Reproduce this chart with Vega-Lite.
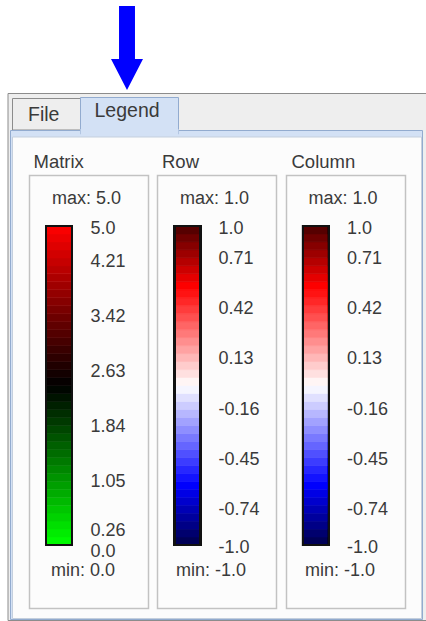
{
  "$schema": "https://vega.github.io/schema/vega-lite/v6.json",
  "width": 426,
  "height": 621,
  "padding": 0,
  "autosize": "none",
  "background": "#ffffff",
  "config": {"view": {"stroke": null}, "text": {"font": "Liberation Sans"}},
  "datasets": {
    "chrome": [
      {"element": "frame", "x": 8, "x2": 432, "y": 93.5, "y2": 620.5},
      {"element": "fileTab", "x": 12.5, "x2": 80.5, "y": 98.5, "y2": 130},
      {"element": "content", "x": 10.5, "x2": 422.5, "y": 130.5, "y2": 619.5},
      {"element": "legendTab", "x": 80.5, "x2": 178.5, "y": 97.5, "y2": 134},
      {"element": "legendJoin", "x": 81, "x2": 178, "y": 129, "y2": 136},
      {"element": "page", "x": 12.5, "x2": 421.5, "y": 137, "y2": 618.5}
    ],
    "boxes": [
      {"panel": "Matrix", "x": 29.5, "x2": 148.5, "y": 175.5, "y2": 608.5},
      {"panel": "Row", "x": 157.5, "x2": 276.5, "y": 175.5, "y2": 608.5},
      {"panel": "Column", "x": 286.5, "x2": 405.5, "y": 175.5, "y2": 608.5}
    ],
    "tabs": [
      {"tab": "File", "x": 28, "y": 114.5},
      {"tab": "Legend", "x": 94.5, "y": 111}
    ],
    "pointer": [{"target": "Legend", "x": 127, "y": 48}],
    "panels": [
      {"panel": "Matrix", "max": "max: 5.0", "min": "min: 0.0"},
      {"panel": "Row", "max": "max: 1.0", "min": "min: -1.0"},
      {"panel": "Column", "max": "max: 1.0", "min": "min: -1.0"}
    ],
    "matrixBands": [
      {"lo": 0, "hi": 0.125, "v": 0.0625}, {"lo": 0.125, "hi": 0.25, "v": 0.1875},
      {"lo": 0.25, "hi": 0.375, "v": 0.3125}, {"lo": 0.375, "hi": 0.5, "v": 0.4375},
      {"lo": 0.5, "hi": 0.625, "v": 0.5625}, {"lo": 0.625, "hi": 0.75, "v": 0.6875},
      {"lo": 0.75, "hi": 0.875, "v": 0.8125}, {"lo": 0.875, "hi": 1, "v": 0.9375},
      {"lo": 1, "hi": 1.125, "v": 1.0625}, {"lo": 1.125, "hi": 1.25, "v": 1.1875},
      {"lo": 1.25, "hi": 1.375, "v": 1.3125}, {"lo": 1.375, "hi": 1.5, "v": 1.4375},
      {"lo": 1.5, "hi": 1.625, "v": 1.5625}, {"lo": 1.625, "hi": 1.75, "v": 1.6875},
      {"lo": 1.75, "hi": 1.875, "v": 1.8125}, {"lo": 1.875, "hi": 2, "v": 1.9375},
      {"lo": 2, "hi": 2.125, "v": 2.0625}, {"lo": 2.125, "hi": 2.25, "v": 2.1875},
      {"lo": 2.25, "hi": 2.375, "v": 2.3125}, {"lo": 2.375, "hi": 2.5, "v": 2.4375},
      {"lo": 2.5, "hi": 2.625, "v": 2.5625}, {"lo": 2.625, "hi": 2.75, "v": 2.6875},
      {"lo": 2.75, "hi": 2.875, "v": 2.8125}, {"lo": 2.875, "hi": 3, "v": 2.9375},
      {"lo": 3, "hi": 3.125, "v": 3.0625}, {"lo": 3.125, "hi": 3.25, "v": 3.1875},
      {"lo": 3.25, "hi": 3.375, "v": 3.3125}, {"lo": 3.375, "hi": 3.5, "v": 3.4375},
      {"lo": 3.5, "hi": 3.625, "v": 3.5625}, {"lo": 3.625, "hi": 3.75, "v": 3.6875},
      {"lo": 3.75, "hi": 3.875, "v": 3.8125}, {"lo": 3.875, "hi": 4, "v": 3.9375},
      {"lo": 4, "hi": 4.125, "v": 4.0625}, {"lo": 4.125, "hi": 4.25, "v": 4.1875},
      {"lo": 4.25, "hi": 4.375, "v": 4.3125}, {"lo": 4.375, "hi": 4.5, "v": 4.4375},
      {"lo": 4.5, "hi": 4.625, "v": 4.5625}, {"lo": 4.625, "hi": 4.75, "v": 4.6875},
      {"lo": 4.75, "hi": 4.875, "v": 4.8125}, {"lo": 4.875, "hi": 5, "v": 4.9375}
    ],
    "corrBands": [
      {"lo": -1, "hi": -0.95, "v": -0.975}, {"lo": -0.95, "hi": -0.9, "v": -0.925},
      {"lo": -0.9, "hi": -0.85, "v": -0.875}, {"lo": -0.85, "hi": -0.8, "v": -0.825},
      {"lo": -0.8, "hi": -0.75, "v": -0.775}, {"lo": -0.75, "hi": -0.7, "v": -0.725},
      {"lo": -0.7, "hi": -0.65, "v": -0.675}, {"lo": -0.65, "hi": -0.6, "v": -0.625},
      {"lo": -0.6, "hi": -0.55, "v": -0.575}, {"lo": -0.55, "hi": -0.5, "v": -0.525},
      {"lo": -0.5, "hi": -0.45, "v": -0.475}, {"lo": -0.45, "hi": -0.4, "v": -0.425},
      {"lo": -0.4, "hi": -0.35, "v": -0.375}, {"lo": -0.35, "hi": -0.3, "v": -0.325},
      {"lo": -0.3, "hi": -0.25, "v": -0.275}, {"lo": -0.25, "hi": -0.2, "v": -0.225},
      {"lo": -0.2, "hi": -0.15, "v": -0.175}, {"lo": -0.15, "hi": -0.1, "v": -0.125},
      {"lo": -0.1, "hi": -0.05, "v": -0.075}, {"lo": -0.05, "hi": 0, "v": -0.025},
      {"lo": 0, "hi": 0.05, "v": 0.025}, {"lo": 0.05, "hi": 0.1, "v": 0.075},
      {"lo": 0.1, "hi": 0.15, "v": 0.125}, {"lo": 0.15, "hi": 0.2, "v": 0.175},
      {"lo": 0.2, "hi": 0.25, "v": 0.225}, {"lo": 0.25, "hi": 0.3, "v": 0.275},
      {"lo": 0.3, "hi": 0.35, "v": 0.325}, {"lo": 0.35, "hi": 0.4, "v": 0.375},
      {"lo": 0.4, "hi": 0.45, "v": 0.425}, {"lo": 0.45, "hi": 0.5, "v": 0.475},
      {"lo": 0.5, "hi": 0.55, "v": 0.525}, {"lo": 0.55, "hi": 0.6, "v": 0.575},
      {"lo": 0.6, "hi": 0.65, "v": 0.625}, {"lo": 0.65, "hi": 0.7, "v": 0.675},
      {"lo": 0.7, "hi": 0.75, "v": 0.725}, {"lo": 0.75, "hi": 0.8, "v": 0.775},
      {"lo": 0.8, "hi": 0.85, "v": 0.825}, {"lo": 0.85, "hi": 0.9, "v": 0.875},
      {"lo": 0.9, "hi": 0.95, "v": 0.925}, {"lo": 0.95, "hi": 1, "v": 0.975}
    ],
    "matrixTicks": [
      {"value": 5, "label": "5.0"}, {"value": 4.21, "label": "4.21"},
      {"value": 3.42, "label": "3.42"}, {"value": 2.63, "label": "2.63"},
      {"value": 1.84, "label": "1.84"}, {"value": 1.05, "label": "1.05"},
      {"value": 0.26, "label": "0.26"}, {"value": 0, "label": "0.0"}
    ],
    "corrTicks": [
      {"value": 1, "label": "1.0"}, {"value": 0.71, "label": "0.71"},
      {"value": 0.42, "label": "0.42"}, {"value": 0.13, "label": "0.13"},
      {"value": -0.16, "label": "-0.16"}, {"value": -0.45, "label": "-0.45"},
      {"value": -0.74, "label": "-0.74"}, {"value": -1, "label": "-1.0"}
    ]
  },
  "layer": [
    {
      "layer": [
        {
          "data": {"name": "chrome"},
          "mark": {"type": "rect", "strokeWidth": 1, "clip": true},
          "encoding": {
            "x": {"field": "x", "type": "quantitative", "scale": {"domain": [0, 426], "range": [0, 426], "nice": false, "zero": false}, "axis": null},
            "x2": {"field": "x2"},
            "y": {"field": "y", "type": "quantitative", "scale": {"domain": [0, 621], "range": [0, 621], "nice": false, "zero": false}, "axis": null},
            "y2": {"field": "y2"},
            "fill": {"field": "element", "type": "nominal", "legend": null, "scale": {"domain": ["frame", "fileTab", "content", "legendTab", "legendJoin", "page"], "range": ["#eeeeee", "#eeeeee", "#d3e1f5", "#d3e1f5", "#d3e1f5", "#fcfcfc"]}},
            "stroke": {"field": "element", "type": "nominal", "legend": null, "scale": {"domain": ["frame", "fileTab", "content", "legendTab", "legendJoin", "page"], "range": ["#8c8c8c", "#8c8c8c", "#92abcf", "#92abcf", "#d3e1f5", "#c4cfdd"]}}
          }
        },
        {
          "data": {"name": "boxes"},
          "mark": {"type": "rect", "fill": "#ffffff", "fillOpacity": 0, "stroke": "#c2c2c2", "strokeWidth": 1.5},
          "encoding": {
            "x": {"field": "x", "type": "quantitative"},
            "x2": {"field": "x2"},
            "y": {"field": "y", "type": "quantitative"},
            "y2": {"field": "y2"}
          }
        },
        {
          "data": {"name": "tabs"},
          "mark": {"type": "text", "align": "left", "baseline": "middle", "fontSize": 19.5, "fill": "#3a3a3a"},
          "encoding": {
            "x": {"field": "x", "type": "quantitative"},
            "y": {"field": "y", "type": "quantitative"},
            "text": {"field": "tab"}
          }
        },
        {
          "data": {"name": "pointer"},
          "mark": {"type": "point", "filled": true, "fill": "#0000ff", "opacity": 1, "strokeWidth": 0, "size": 7056, "shape": "M-0.19,-1L0.19,-1L0.19,0.262L0.381,0.262L0,1L-0.381,0.262L-0.19,0.262Z"},
          "encoding": {
            "x": {"field": "x", "type": "quantitative"},
            "y": {"field": "y", "type": "quantitative"}
          }
        }
      ]
    },
    {
      "data": {"name": "matrixBands"},
      "layer": [
        {
          "mark": {"type": "bar", "width": 26, "xOffset": -29.5, "strokeWidth": 0.6},
          "encoding": {
            "x": {"datum": "Matrix", "type": "nominal", "scale": {"type": "band", "domain": ["Matrix", "Row", "Column"], "range": [29, 405], "paddingInner": 0.0739, "paddingOuter": 0}, "axis": null},
            "y": {"field": "lo", "type": "quantitative", "scale": {"domain": [0, 5], "range": [545, 226], "nice": false, "zero": false}, "axis": null},
            "y2": {"field": "hi"},
            "fill": {"field": "v", "type": "quantitative", "legend": null, "scale": {"domain": [0, 2.5, 5], "range": ["#00ff00", "#000000", "#ff0000"], "interpolate": "rgb"}},
            "stroke": {"field": "v", "type": "quantitative", "legend": null, "scale": {"domain": [0, 2.5, 5], "range": ["#00ff00", "#000000", "#ff0000"], "interpolate": "rgb"}}
          }
        },
        {
          "mark": {"type": "bar", "width": 26, "xOffset": -29.5, "fill": "#000000", "fillOpacity": 0, "stroke": "#111111", "strokeWidth": 2},
          "encoding": {
            "x": {"datum": "Matrix", "type": "nominal"},
            "y": {"datum": 0, "type": "quantitative"},
            "y2": {"datum": 5}
          }
        },
        {
          "data": {"name": "panels"},
          "transform": [{"filter": "datum.panel === 'Matrix'"}],
          "layer": [
            {
              "mark": {"type": "text", "align": "left", "baseline": "middle", "xOffset": -55, "yOffset": -64.5, "fontSize": 18.5, "fill": "#3a3a3a"},
              "encoding": {"x": {"field": "panel", "type": "nominal"}, "y": {"datum": 5, "type": "quantitative"}, "text": {"field": "panel"}}
            },
            {
              "mark": {"type": "text", "align": "center", "baseline": "middle", "xOffset": -2, "yOffset": -27, "fontSize": 18, "fill": "#3a3a3a"},
              "encoding": {"x": {"field": "panel", "type": "nominal"}, "y": {"datum": 5, "type": "quantitative"}, "text": {"field": "max"}}
            },
            {
              "mark": {"type": "text", "align": "center", "baseline": "middle", "xOffset": -5.5, "yOffset": 26, "fontSize": 18, "fill": "#3a3a3a"},
              "encoding": {"x": {"field": "panel", "type": "nominal"}, "y": {"datum": 0, "type": "quantitative"}, "text": {"field": "min"}}
            }
          ]
        }
      ]
    },
    {
      "data": {"name": "corrBands"},
      "layer": [
        {
          "mark": {"type": "bar", "width": 26, "xOffset": -29.5, "strokeWidth": 0.6},
          "encoding": {
            "x": {"datum": "Row", "type": "nominal", "scale": {"type": "band", "domain": ["Matrix", "Row", "Column"], "range": [29, 405], "paddingInner": 0.0739, "paddingOuter": 0}, "axis": null},
            "y": {"field": "lo", "type": "quantitative", "scale": {"domain": [-1, 1], "range": [545, 226], "nice": false, "zero": false}, "axis": null},
            "y2": {"field": "hi"},
            "fill": {"field": "v", "type": "quantitative", "legend": null, "scale": {"domain": [-1, -0.62, 0, 0.62, 1], "range": ["#00004a", "#0000ff", "#ffffff", "#ff0000", "#4a0000"], "interpolate": "rgb"}},
            "stroke": {"field": "v", "type": "quantitative", "legend": null, "scale": {"domain": [-1, -0.62, 0, 0.62, 1], "range": ["#00004a", "#0000ff", "#ffffff", "#ff0000", "#4a0000"], "interpolate": "rgb"}}
          }
        },
        {
          "mark": {"type": "bar", "width": 26, "xOffset": -29.5, "fill": "#000000", "fillOpacity": 0, "stroke": "#111111", "strokeWidth": 2},
          "encoding": {
            "x": {"datum": "Row", "type": "nominal"},
            "y": {"datum": -1, "type": "quantitative"},
            "y2": {"datum": 1}
          }
        },
        {
          "data": {"name": "panels"},
          "transform": [{"filter": "datum.panel === 'Row'"}],
          "layer": [
            {
              "mark": {"type": "text", "align": "left", "baseline": "middle", "xOffset": -55, "yOffset": -64.5, "fontSize": 18.5, "fill": "#3a3a3a"},
              "encoding": {"x": {"field": "panel", "type": "nominal"}, "y": {"datum": 1, "type": "quantitative"}, "text": {"field": "panel"}}
            },
            {
              "mark": {"type": "text", "align": "center", "baseline": "middle", "xOffset": -2.5, "yOffset": -27, "fontSize": 18, "fill": "#3a3a3a"},
              "encoding": {"x": {"field": "panel", "type": "nominal"}, "y": {"datum": 1, "type": "quantitative"}, "text": {"field": "max"}}
            },
            {
              "mark": {"type": "text", "align": "center", "baseline": "middle", "xOffset": -6, "yOffset": 26, "fontSize": 18, "fill": "#3a3a3a"},
              "encoding": {"x": {"field": "panel", "type": "nominal"}, "y": {"datum": -1, "type": "quantitative"}, "text": {"field": "min"}}
            }
          ]
        }
      ]
    },
    {
      "data": {"name": "corrBands"},
      "layer": [
        {
          "mark": {"type": "bar", "width": 26, "xOffset": -29.5, "strokeWidth": 0.6},
          "encoding": {
            "x": {"datum": "Column", "type": "nominal", "scale": {"type": "band", "domain": ["Matrix", "Row", "Column"], "range": [29, 405], "paddingInner": 0.0739, "paddingOuter": 0}, "axis": null},
            "y": {"field": "lo", "type": "quantitative", "scale": {"domain": [-1, 1], "range": [545, 226], "nice": false, "zero": false}, "axis": null},
            "y2": {"field": "hi"},
            "fill": {"field": "v", "type": "quantitative", "legend": null, "scale": {"domain": [-1, -0.62, 0, 0.62, 1], "range": ["#00004a", "#0000ff", "#ffffff", "#ff0000", "#4a0000"], "interpolate": "rgb"}},
            "stroke": {"field": "v", "type": "quantitative", "legend": null, "scale": {"domain": [-1, -0.62, 0, 0.62, 1], "range": ["#00004a", "#0000ff", "#ffffff", "#ff0000", "#4a0000"], "interpolate": "rgb"}}
          }
        },
        {
          "mark": {"type": "bar", "width": 26, "xOffset": -29.5, "fill": "#000000", "fillOpacity": 0, "stroke": "#111111", "strokeWidth": 2},
          "encoding": {
            "x": {"datum": "Column", "type": "nominal"},
            "y": {"datum": -1, "type": "quantitative"},
            "y2": {"datum": 1}
          }
        },
        {
          "data": {"name": "panels"},
          "transform": [{"filter": "datum.panel === 'Column'"}],
          "layer": [
            {
              "mark": {"type": "text", "align": "left", "baseline": "middle", "xOffset": -54, "yOffset": -64.5, "fontSize": 18.5, "fill": "#3a3a3a"},
              "encoding": {"x": {"field": "panel", "type": "nominal"}, "y": {"datum": 1, "type": "quantitative"}, "text": {"field": "panel"}}
            },
            {
              "mark": {"type": "text", "align": "center", "baseline": "middle", "xOffset": -2.5, "yOffset": -27, "fontSize": 18, "fill": "#3a3a3a"},
              "encoding": {"x": {"field": "panel", "type": "nominal"}, "y": {"datum": 1, "type": "quantitative"}, "text": {"field": "max"}}
            },
            {
              "mark": {"type": "text", "align": "center", "baseline": "middle", "xOffset": -5.5, "yOffset": 26, "fontSize": 18, "fill": "#3a3a3a"},
              "encoding": {"x": {"field": "panel", "type": "nominal"}, "y": {"datum": -1, "type": "quantitative"}, "text": {"field": "min"}}
            }
          ]
        }
      ]
    },
    {
      "data": {"name": "matrixTicks"},
      "mark": {"type": "text", "align": "left", "baseline": "middle", "xOffset": 2, "fontSize": 18, "fill": "#3a3a3a"},
      "encoding": {
        "x": {"datum": "Matrix", "type": "nominal", "scale": {"type": "band", "domain": ["Matrix", "Row", "Column"], "range": [29, 405], "paddingInner": 0.0739, "paddingOuter": 0}, "axis": null},
        "y": {"field": "value", "type": "quantitative", "scale": {"domain": [0, 0.26, 1.05, 4.21, 5], "range": [552, 531, 482, 262, 229], "nice": false, "zero": false}, "axis": null},
        "text": {"field": "label"}
      }
    },
    {
      "data": {"name": "corrTicks"},
      "mark": {"type": "text", "align": "left", "baseline": "middle", "xOffset": 1.5, "fontSize": 18, "fill": "#3a3a3a"},
      "encoding": {
        "x": {"datum": "Row", "type": "nominal", "scale": {"type": "band", "domain": ["Matrix", "Row", "Column"], "range": [29, 405], "paddingInner": 0.0739, "paddingOuter": 0}, "axis": null},
        "y": {"field": "value", "type": "quantitative", "scale": {"domain": [-1, -0.74, 0.71, 1], "range": [548, 510, 259, 229], "nice": false, "zero": false}, "axis": null},
        "text": {"field": "label"}
      }
    },
    {
      "data": {"name": "corrTicks"},
      "mark": {"type": "text", "align": "left", "baseline": "middle", "xOffset": 1.5, "fontSize": 18, "fill": "#3a3a3a"},
      "encoding": {
        "x": {"datum": "Column", "type": "nominal", "scale": {"type": "band", "domain": ["Matrix", "Row", "Column"], "range": [29, 405], "paddingInner": 0.0739, "paddingOuter": 0}, "axis": null},
        "y": {"field": "value", "type": "quantitative", "scale": {"domain": [-1, -0.74, 0.71, 1], "range": [548, 510, 259, 229], "nice": false, "zero": false}, "axis": null},
        "text": {"field": "label"}
      }
    }
  ],
  "resolve": {"scale": {"x": "independent", "y": "independent", "fill": "independent", "stroke": "independent"}}
}
